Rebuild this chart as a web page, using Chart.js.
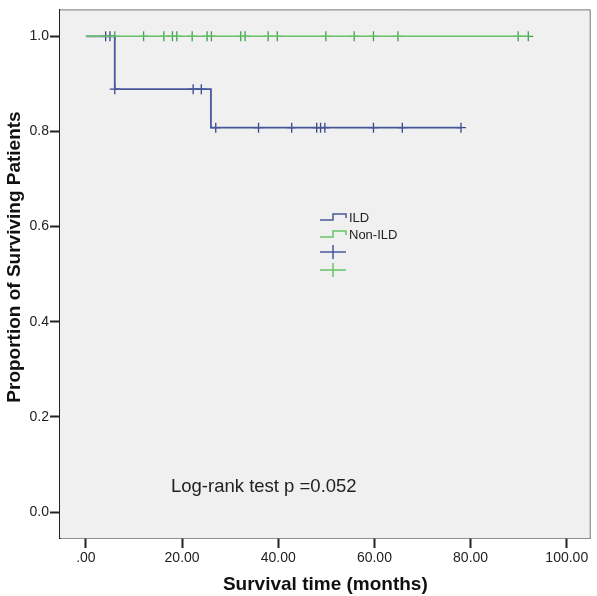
<!DOCTYPE html>
<html>
<head>
<meta charset="utf-8">
<script src="https://cdn.jsdelivr.net/npm/chart.js@4"></script>
<style>
  body { margin: 0; background: #fff; }
  canvas { display: block; }
</style>
</head>
<body>
<canvas id="kmChart" width="597" height="596"></canvas>
<script>
// Kaplan-Meier steps (time in months, proportion surviving)
var ildStepTimes = [0, 6, 26, 78];
var ildStepSurv = [1, 0.889, 0.808, 0.808];
var nonIldStepTimes = [0, 92];
var nonIldStepSurv = [1, 1];

// censored observations (months)
var ildCensored = [4.1, 5.0, 6.0, 22.3, 24.0, 27.0, 35.9, 42.8, 48.0, 48.8, 49.7, 59.8, 65.8, 78.0];
var nonIldCensored = [6.0, 12.0, 16.2, 18.0, 18.9, 22.1, 25.2, 26.1, 32.2, 33.1, 37.9, 39.8, 49.9, 55.8, 59.8, 64.9, 89.9, 92.0];

var xTicks = [0, 20, 40, 60, 80, 100];
var xTickLabels = ['.00', '20.00', '40.00', '60.00', '80.00', '100.00'];
var yTicks = [0, 0.2, 0.4, 0.6, 0.8, 1.0];
var yTickLabels = ['0.0', '0.2', '0.4', '0.6', '0.8', '1.0'];

var FONT = "'Liberation Sans', Arial, sans-serif";
var BLUE = '#46589a';
var BLUE_MARK = '#36468a';
var GREEN = '#66c466';
var GREEN_MARK = '#3f9f4c';

function survAt(times, surv, t) {
    var v = surv[0];
    for (var i = 0; i < times.length; i++) {
        if (times[i] <= t) v = surv[i];
    }
    return v;
}

function toPoints(xs, ys) {
    return xs.map(function (x, i) { return { x: x, y: ys[i] }; });
}

function censorPoints(cens, times, surv) {
    return cens.map(function (t) { return { x: t, y: survAt(times, surv, t) }; });
}

// gray plot background, top/right frame, legend and notes
var frame = {
    id: 'frame',
    beforeDatasetsDraw: function (chart) {
        var a = chart.chartArea, ctx = chart.ctx;
        ctx.save();
        ctx.fillStyle = '#f0f0f0';
        ctx.fillRect(a.left, a.top, a.right - a.left, a.bottom - a.top);
        ctx.restore();
    },
    afterDraw: function (chart) {
        var a = chart.chartArea, ctx = chart.ctx;
        ctx.save();
        ctx.strokeStyle = '#7a7a7a';
        ctx.lineWidth = 1;
        ctx.beginPath();
        ctx.moveTo(a.left, a.top + 0.5);
        ctx.lineTo(a.right - 0.5, a.top + 0.5);
        ctx.lineTo(a.right - 0.5, a.bottom);
        ctx.stroke();

        // legend inside the plot
        var lx = 320, ly = 215;
        function stepIcon(y, color) {
            ctx.strokeStyle = color;
            ctx.lineWidth = 1.5;
            ctx.beginPath();
            ctx.moveTo(lx, y + 5);
            ctx.lineTo(lx + 13, y + 5);
            ctx.lineTo(lx + 13, y - 1);
            ctx.lineTo(lx + 26, y - 1);
            ctx.lineTo(lx + 26, y + 3);
            ctx.stroke();
        }
        function crossIcon(y, color) {
            ctx.strokeStyle = color;
            ctx.lineWidth = 1.5;
            ctx.beginPath();
            ctx.moveTo(lx, y);
            ctx.lineTo(lx + 26, y);
            ctx.moveTo(lx + 13, y - 7);
            ctx.lineTo(lx + 13, y + 7);
            ctx.stroke();
        }
        stepIcon(ly, BLUE);
        stepIcon(ly + 17, GREEN);
        crossIcon(ly + 37, BLUE);
        crossIcon(ly + 55, GREEN);
        ctx.fillStyle = '#222';
        ctx.font = '13px ' + FONT;
        ctx.textBaseline = 'middle';
        ctx.fillText('ILD', lx + 29, ly + 3);
        ctx.fillText('Non-ILD', lx + 29, ly + 20);

        ctx.font = '18.5px ' + FONT;
        ctx.fillText('Log-rank test p =0.052', 171, 487);

        // y axis title
        ctx.translate(15, 257);
        ctx.rotate(-Math.PI / 2);
        ctx.textAlign = 'center';
        ctx.fillStyle = '#111';
        ctx.font = 'bold 19px ' + FONT;
        ctx.fillText('Proportion of Surviving Patients', 0, 0);
        ctx.restore();
    }
};

new Chart(document.getElementById('kmChart'), {
    type: 'scatter',
    data: {
        datasets: [
            {
                label: 'Non-ILD',
                data: toPoints(nonIldStepTimes, nonIldStepSurv),
                showLine: true,
                stepped: 'before',
                borderColor: GREEN,
                borderWidth: 1.5,
                pointRadius: 0
            },
            {
                label: 'ILD',
                data: toPoints(ildStepTimes, ildStepSurv),
                showLine: true,
                stepped: 'before',
                borderColor: BLUE,
                borderWidth: 1.8,
                pointRadius: 0
            },
            {
                label: 'Non-ILD censored',
                data: censorPoints(nonIldCensored, nonIldStepTimes, nonIldStepSurv),
                pointStyle: 'cross',
                pointRadius: 5,
                borderColor: GREEN_MARK,
                borderWidth: 1.3
            },
            {
                label: 'ILD censored',
                data: censorPoints(ildCensored, ildStepTimes, ildStepSurv),
                pointStyle: 'cross',
                pointRadius: 5,
                borderColor: BLUE_MARK,
                borderWidth: 1.3
            }
        ]
    },
    options: {
        responsive: false,
        devicePixelRatio: 1,
        animation: false,
        layout: { padding: { top: 2, right: 5, left: 0, bottom: 0 } },
        plugins: {
            legend: { display: false },
            tooltip: { enabled: false }
        },
        scales: {
            x: {
                type: 'linear',
                min: -5.39,
                max: 104.98,
                afterBuildTicks: function (s) {
                    s.ticks = xTicks.map(function (v) { return { value: v }; });
                },
                afterFit: function (s) { s.height = 58; },
                ticks: {
                    padding: 2,
                    color: '#222',
                    font: { family: FONT, size: 14 },
                    callback: function (v) { return xTickLabels[xTicks.indexOf(v)]; }
                },
                grid: {
                    drawOnChartArea: false,
                    tickLength: 10,
                    tickColor: '#222',
                    tickWidth: 2
                },
                border: { color: '#222', width: 1.5 },
                title: {
                    display: true,
                    text: 'Survival time (months)',
                    color: '#111',
                    font: { family: FONT, size: 19, weight: 'bold' },
                    padding: { top: 0, bottom: 0 }
                }
            },
            y: {
                type: 'linear',
                min: -0.0545,
                max: 1.0566,
                afterBuildTicks: function (s) {
                    s.ticks = yTicks.map(function (v) { return { value: v }; });
                },
                afterFit: function (s) { s.width = 60; },
                ticks: {
                    padding: 1,
                    color: '#222',
                    font: { family: FONT, size: 14 },
                    callback: function (v) { return yTickLabels[yTicks.indexOf(v)]; }
                },
                grid: {
                    drawOnChartArea: false,
                    tickLength: 10,
                    tickColor: '#222',
                    tickWidth: 2
                },
                border: { color: '#222', width: 1.5 }
            }
        }
    },
    plugins: [frame]
});
</script>
</body>
</html>
